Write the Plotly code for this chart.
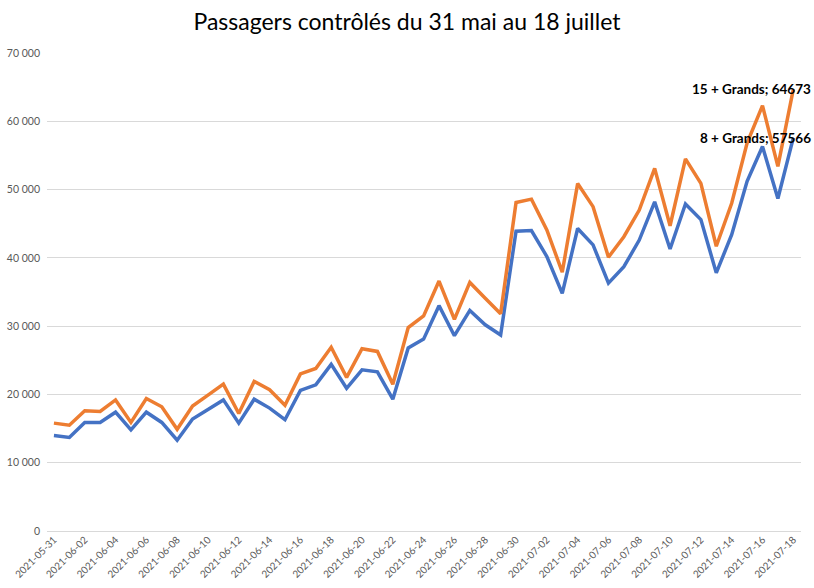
import plotly.graph_objects as go
import pandas as pd

dates = [d.strftime("%Y-%m-%d") for d in pd.date_range("2021-05-31", "2021-07-18")]

grands_8 = [13970, 13700, 15900, 15900, 17400, 14800, 17400, 15900, 13300, 16400,
            17800, 19200, 15800, 19300, 18000, 16300, 20600, 21400, 24400, 20900,
            23600, 23300, 19300, 26800, 28100, 33000, 28600, 32300, 30200, 28700,
            43900, 44000, 40200, 34800, 44300, 41900, 36300, 38700, 42600, 48200,
            41300, 47900, 45600, 37800, 43400, 51200, 56300, 48700, 57566]

grands_15 = [15800, 15500, 17600, 17500, 19200, 15900, 19400, 18200, 14900, 18300,
             19900, 21500, 17200, 21900, 20700, 18400, 23000, 23800, 26900, 22500,
             26700, 26300, 21500, 29800, 31500, 36600, 31000, 36400, 34100, 31800,
             48100, 48600, 44100, 37900, 50900, 47500, 40100, 43100, 47000, 53100,
             44700, 54500, 50900, 41700, 48000, 56800, 62300, 53400, 64673]

series_names = ["8 + Grands", "15 + Grands"]
y_ticks = [0, 10000, 20000, 30000, 40000, 50000, 60000, 70000]
y_ticktext = ["0", "10 000", "20 000", "30 000", "40 000", "50 000", "60 000", "70 000"]
x_ticks = dates[::2]

FONT = "Lato, Carlito, sans-serif"

fig = go.Figure()
fig.add_trace(go.Scatter(x=dates, y=grands_8, mode="lines", name=series_names[0],
                         line=dict(color="#4472C4", width=3.5)))
fig.add_trace(go.Scatter(x=dates, y=grands_15, mode="lines", name=series_names[1],
                         line=dict(color="#ED7D31", width=3.5)))

for name, vals in [(series_names[1], grands_15), (series_names[0], grands_8)]:
    fig.add_annotation(xref="paper", x=1.0, y=vals[-1], yref="y",
                       text=f"<b>{name}; {vals[-1]}</b>",
                       showarrow=False, xanchor="right", yanchor="middle", xshift=12,
                       font=dict(family=FONT, size=13.5, color="#000000"))

fig.update_layout(
    width=814, height=588,
    paper_bgcolor="white", plot_bgcolor="white",
    margin=dict(l=47, r=13, t=53, b=57, autoexpand=False),
    showlegend=False,
    title=dict(text="Passagers contrôlés du 31 mai au 18 juillet", x=0.5, xanchor="center",
               y=0.962, yanchor="middle",
               font=dict(family=FONT, size=23, color="#000000")),
)
fig.update_xaxes(type="category", range=[-0.45, 48.5], tickmode="array", tickvals=x_ticks,
                 ticktext=x_ticks, tickangle=-45, showgrid=False, showline=False,
                 automargin=False,
                 tickfont=dict(family=FONT, size=10, color="#595959"),
                 ticks="", ticklen=0)
fig.update_yaxes(range=[0, 70000], tickmode="array", tickvals=y_ticks, ticktext=y_ticktext,
                 showgrid=True, gridcolor="#D9D9D9", gridwidth=1, zeroline=True,
                 zerolinecolor="#D9D9D9", zerolinewidth=1, showline=False,
                 automargin=False,
                 tickfont=dict(family=FONT, size=10.5, color="#595959"),
                 ticks="", ticklabelstandoff=6)

fig.write_html("out.html", config={"displayModeBar": False},
               post_script="document.body.style.margin='0';document.body.style.padding='0';")
